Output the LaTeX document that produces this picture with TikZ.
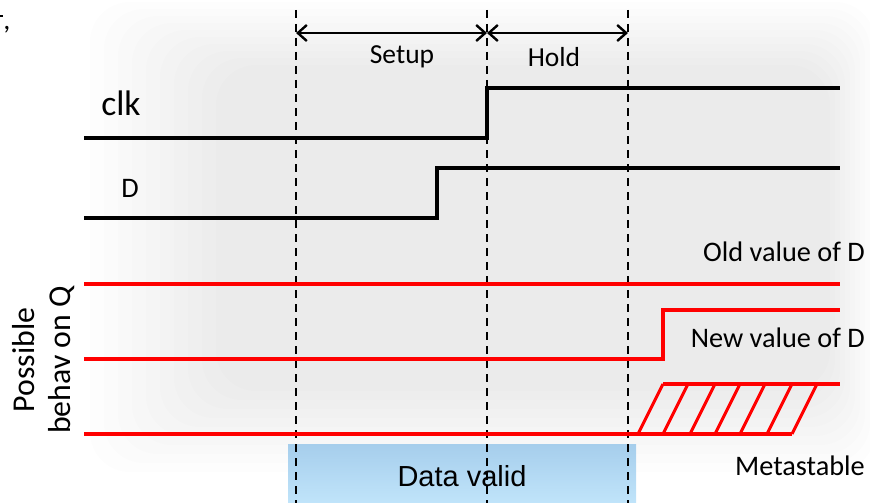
\documentclass[tikz,border=0pt]{standalone}
\usepackage{fontspec}
\setmainfont{Carlito}
\newfontfamily\arialfont{Liberation Sans}
\usetikzlibrary{arrows.meta}
\definecolor{validtop}{HTML}{A6CEEC}
\definecolor{validbot}{HTML}{C0E4FA}
\begin{document}
\begin{tikzpicture}[x=1pt,y=-1pt,
  sig/.style={line width=3.1pt, line join=miter},
  clksig/.style={sig,black},
  qsig/.style={sig,red},
  guide/.style={black, line width=1.1pt, dash pattern=on 8pt off 6pt},
  dim/.style={line width=2.4pt,
    {Straight Barb[length=9pt,width=16pt,line width=2.4pt]}-{Straight Barb[length=9pt,width=16pt,line width=2.4pt]}},
  lbl/.style={font=\fontsize{28.3}{32}\selectfont, inner sep=0pt},
  smlbl/.style={font=\fontsize{27.5}{32}\selectfont, inner sep=0pt},
  biglbl/.style={font=\fontsize{35.5}{40}\selectfont, inner sep=0pt},
  ]
\useasboundingbox (0,0) rectangle (870,503);

% soft grey haze behind the waveforms
\foreach \i in {0,...,9}
  \fill[black, opacity=0.008, rounded corners=40pt]
    (90+\i*14, 2+\i*7) rectangle (875-\i*5, 472-\i*9);

% fragment at the top left corner
\draw[line width=1.6pt] (0,16) -- (3,16);
\node[lbl, anchor=base] (comma) at (7,30) {,};

% data valid window
\shade[top color=validtop, bottom color=validbot] (288,444) rectangle (636,503);
\node[font=\arialfont\fontsize{29}{33}\selectfont, inner sep=0pt] (valid) at (462,476) {Data valid};

% dashed timing guides
\foreach \x/\n in {296/ga,487/gb,628/gc}{
  \coordinate (\n top) at (\x,10);
  \coordinate (\n bot) at (\x,503);
  \draw[guide] (\n top) -- (\n bot);
}

% setup / hold dimension arrows
\coordinate (s0) at (296,33);
\coordinate (s1) at (487,33);
\coordinate (s2) at (628,33);
\draw[dim] (s0) -- (s1);
\draw[dim] (s1) -- (s2);
\node[smlbl] (setup) at (402,57) {Setup};
\node[smlbl] (hold) at (554,57) {Hold};

% clock and data inputs
\draw[clksig] (84,138) -- (487,138) -- (487,88) -- (840,88);
\node[biglbl] (clk) at (121,103) {clk};
\draw[clksig] (84,218) -- (437,218) -- (437,168) -- (840,168);
\node[lbl] (d) at (130,188) {D};

% possible outputs
\draw[qsig] (84,284) -- (840,284);
\node[lbl, anchor=east] (old) at (865,252) {Old value of D};
\draw[qsig] (84,359) -- (663,359) -- (663,310) -- (840,310);
\node[lbl, anchor=east] (new) at (865,338) {New value of D};
\draw[qsig] (84,434) -- (792,434);
\draw[qsig] (663,384) -- (840,384);
\foreach \b in {638,663,690,715,740,767,792}
  \draw[qsig] (\b,434) -- (\b+25,384);
\node[lbl, anchor=east] (meta) at (865,466) {Metastable};

% side caption
\node[rotate=90, align=center, inner sep=0pt,
  font=\fontsize{31.8}{36}\selectfont] (qlabel) at (44,360) {Possible\\behav on Q};
\end{tikzpicture}
\end{document}
